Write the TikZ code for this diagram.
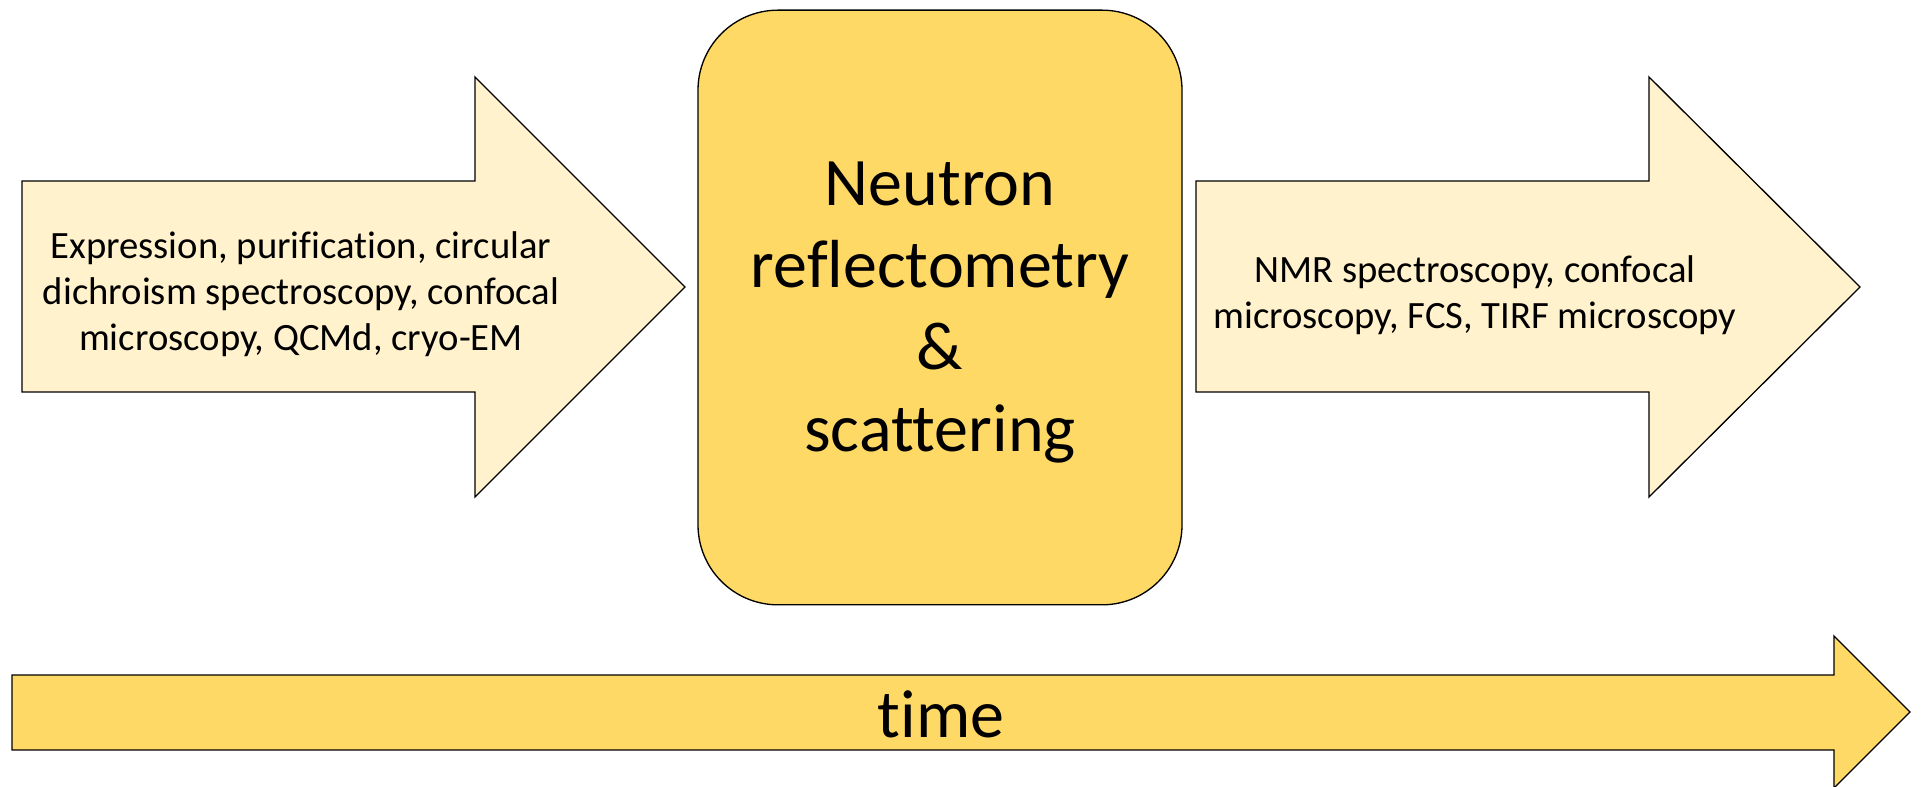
\documentclass[tikz,border=0pt]{standalone}
\usepackage{fontspec}
\setmainfont{Carlito}[Ligatures=NoCommon]
\usetikzlibrary{positioning,calc}

\definecolor{palegold}{HTML}{FFF2CC}
\definecolor{gold}{HTML}{FFD966}

\begin{document}
\begin{tikzpicture}[x=0.75pt, y=-0.75pt, line width=1pt, line join=miter,
    small/.style={font=\fontsize{29}{34.5}\selectfont, align=center},
    big/.style={font=\fontsize{51}{61.5}\selectfont, align=center}]
    \useasboundingbox (0,0) rectangle (1921,787);

    % arrows before and after
    \draw[fill=palegold] (22,181) -- (475,181) -- (475,77) -- (685,287) -- (475,497) -- (475,392) -- (22,392) -- cycle;
    \draw[fill=palegold] (1196,181) -- (1649,181) -- (1649,77) -- (1860,287) -- (1649,497) -- (1649,392) -- (1196,392) -- cycle;

    \node[small] (before) at (301,294) {Expression, purification, circular\\dichroism spectroscopy, confocal\\microscopy, QCMd, cryo-EM};
    \node[small] (after)  at (1475,295) {NMR spectroscopy, confocal\\microscopy, FCS, TIRF microscopy};

    % main technique
    \node[draw, fill=gold, rounded corners=60pt, minimum width=363pt, minimum height=446pt]
        (neutron) at (940,307.5) {};
    \node[big, below=4pt of neutron.center, anchor=center] (nrtext) {Neutron\\reflectometry\\\&\\scattering};

    % time axis
    \draw[fill=gold] (12,675) -- (1834,675) -- (1834,636) -- (1910,712) -- (1834,788) -- (1834,750) -- (12,750) -- cycle;
    \node[big] (time) at (941,714) {time};
\end{tikzpicture}
\end{document}
